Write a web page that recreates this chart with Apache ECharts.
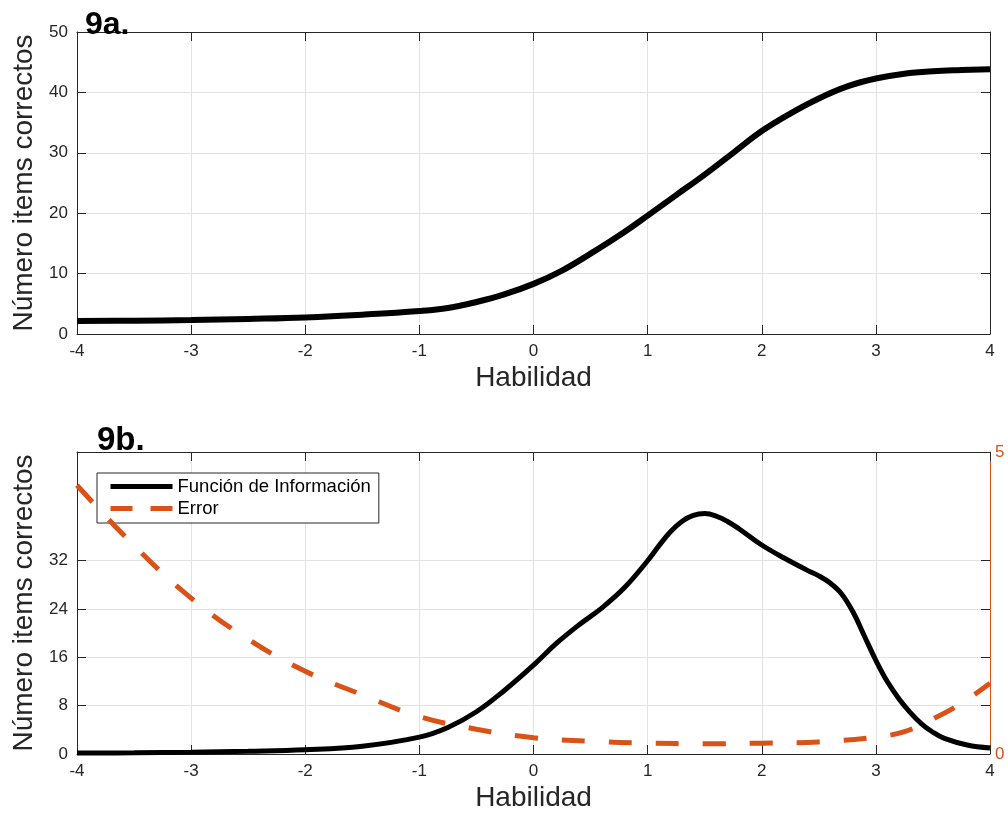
<!DOCTYPE html>
<html>
<head>
<meta charset="utf-8">
<script src="https://cdn.jsdelivr.net/npm/echarts@6/dist/echarts.min.js"></script>
<style>html,body{margin:0;padding:0;background:#fff}#c{width:1008px;height:813px}</style>
</head>
<body>
<div id="c"></div>
<script>
// ---- data ----
const xTicks = [-4, -3, -2, -1, 0, 1, 2, 3, 4];
const topX = [-4, -3.5, -3, -2.5, -2, -1.5, -1, -0.75, -0.5, -0.25, 0, 0.25, 0.5, 0.75, 1, 1.25, 1.5, 1.75, 2, 2.25, 2.5, 2.75, 3, 3.25, 3.5, 3.75, 4];
const topY = [2.15, 2.2, 2.3, 2.5, 2.75, 3.2, 3.8, 4.3, 5.3, 6.6, 8.3, 10.5, 13.3, 16.3, 19.6, 23, 26.4, 30, 33.6, 36.5, 39, 41, 42.3, 43.1, 43.5, 43.7, 43.85];
const infoX = [-4, -3.5, -3, -2.5, -2, -1.5, -1, -0.75, -0.5, -0.25, 0, 0.2, 0.4, 0.6, 0.8, 1.0, 1.1, 1.2, 1.3, 1.4, 1.5, 1.6, 1.7, 1.8, 2.0, 2.2, 2.4, 2.5, 2.6, 2.7, 2.8, 2.9, 3.0, 3.1, 3.2, 3.3, 3.4, 3.5, 3.6, 3.8, 4.0];
const infoY = [0.15, 0.2, 0.3, 0.45, 0.7, 1.3, 2.8, 4.4, 7.0, 10.6, 14.7, 18.3, 21.4, 24.2, 27.6, 32, 34.5, 36.8, 38.5, 39.5, 39.8, 39.4, 38.5, 37.3, 34.6, 32.4, 30.4, 29.5, 28.3, 26.5, 23.5, 19.5, 15.5, 12.0, 9.2, 6.9, 5.0, 3.6, 2.6, 1.5, 1.0];
const errX = [-4, -3.5, -3, -2.5, -2, -1.5, -1, -0.5, 0, 0.5, 1, 1.5, 2, 2.5, 3, 3.25, 3.5, 3.75, 4];
const errY = [4.45, 3.45, 2.58, 1.9, 1.37, 0.98, 0.62, 0.41, 0.27, 0.21, 0.18, 0.17, 0.18, 0.2, 0.28, 0.37, 0.58, 0.84, 1.17];
const leftTicksB = [0, 8, 16, 24, 32];
const rightTicksB = [0, 5];
const seriesNames = ['Función de Información', 'Error'];
const titles = ['9a.', '9b.'];
const axisNameY = 'Número items correctos';
const axisNameX = 'Habilidad';

// ---- styles ----
const FONT = 'Liberation Sans, Arial, Helvetica, sans-serif';
const AX = '#262626';
const GRIDC = '#e2e2e2';
const ORANGE = '#D95319';

function pairs(xs, ys) { return xs.map((x, i) => [x, ys[i]]); }

function xBottom(gi) {
  return {
    type: 'value', gridIndex: gi, position: 'bottom', min: -4, max: 4, interval: 1,
    name: axisNameX, nameLocation: 'middle', nameGap: 30,
    nameTextStyle: { fontFamily: FONT, fontSize: 28, color: AX },
    axisLine: { show: true, onZero: false, lineStyle: { color: AX, width: 1 } },
    axisTick: { show: true, inside: true, length: 9, lineStyle: { color: AX } },
    axisLabel: { show: true, margin: 9, fontFamily: FONT, fontSize: 17, color: AX },
    splitLine: { show: true, lineStyle: { color: GRIDC, width: 1 } }
  };
}
function xTop(gi) {
  return {
    type: 'value', gridIndex: gi, position: 'top', min: -4, max: 4, interval: 1,
    axisLine: { show: true, onZero: false, lineStyle: { color: AX, width: 1 } },
    axisTick: { show: true, inside: true, length: 9, lineStyle: { color: AX } },
    axisLabel: { show: false }, splitLine: { show: false }
  };
}

const option = {
  animation: false,
  backgroundColor: '#fff',
  title: [
    { text: titles[0], left: 80, top: 4, textStyle: { fontFamily: FONT, fontSize: 32, fontWeight: 'bold', color: '#000' } },
    { text: titles[1], left: 92, top: 419, textStyle: { fontFamily: FONT, fontSize: 33, fontWeight: 'bold', color: '#000' } }
  ],
  grid: [
    { left: 77, right: 18, top: 32, height: 302, containLabel: false },
    { left: 77, right: 18, top: 452, height: 302, containLabel: false }
  ],
  legend: {
    data: [
      { name: seriesNames[0] },
      { name: seriesNames[1], lineStyle: { type: [22, 18] } }
    ],
    orient: 'vertical', left: 97, top: 473,
    backgroundColor: '#fff', borderColor: AX, borderWidth: 1, borderRadius: 0,
    padding: [4, 8, 5, 11], itemWidth: 62, itemHeight: 14, itemGap: 3,
    itemStyle: { opacity: 0 },
    lineStyle: { width: 5, cap: 'butt' },
    textStyle: { fontFamily: FONT, fontSize: 18.5, color: '#000' }
  },
  xAxis: [xBottom(0), xTop(0), xBottom(1), xTop(1)],
  yAxis: [
    {
      type: 'value', gridIndex: 0, position: 'left', min: 0, max: 50, interval: 10,
      name: axisNameY, nameLocation: 'middle', nameGap: 38,
      nameTextStyle: { fontFamily: FONT, fontSize: 28, color: AX },
      axisLine: { show: true, onZero: false, lineStyle: { color: AX } },
      axisTick: { show: true, inside: true, length: 9, lineStyle: { color: AX } },
      axisLabel: { margin: 9, fontFamily: FONT, fontSize: 17, color: AX },
      splitLine: { show: true, lineStyle: { color: GRIDC } }
    },
    {
      type: 'value', gridIndex: 0, position: 'right', min: 0, max: 50, interval: 10,
      axisLine: { show: true, onZero: false, lineStyle: { color: AX } },
      axisTick: { show: true, inside: true, length: 9, lineStyle: { color: AX } },
      axisLabel: { show: false }, splitLine: { show: false }
    },
    {
      type: 'value', gridIndex: 1, position: 'left', min: 0, max: 50,
      name: axisNameY, nameLocation: 'middle', nameGap: 38,
      nameTextStyle: { fontFamily: FONT, fontSize: 28, color: AX },
      axisLine: { show: true, onZero: false, lineStyle: { color: AX } },
      axisTick: { show: true, inside: true, length: 9, lineStyle: { color: AX }, customValues: leftTicksB },
      axisLabel: { margin: 9, fontFamily: FONT, fontSize: 17, color: AX, customValues: leftTicksB },
      splitLine: { show: true, lineStyle: { color: GRIDC } }
    },
    {
      type: 'value', gridIndex: 1, position: 'right', min: 0, max: 5, interval: 5,
      axisLine: { show: true, onZero: false, lineStyle: { color: ORANGE } },
      axisTick: { show: false },
      axisLabel: { margin: 5, fontFamily: FONT, fontSize: 17, color: ORANGE, customValues: rightTicksB },
      splitLine: { show: false }
    },
    {
      type: 'value', gridIndex: 1, position: 'right', min: 0, max: 50,
      axisLine: { show: false, onZero: false },
      axisTick: { show: true, inside: true, length: 9, lineStyle: { color: AX }, customValues: leftTicksB },
      axisLabel: { show: false }, splitLine: { show: false }
    }
  ],
  series: [
    {
      name: '9a', type: 'line', xAxisIndex: 0, yAxisIndex: 0, data: pairs(topX, topY),
      showSymbol: false, symbol: 'none', smooth: 0.4,
      lineStyle: { color: '#000', width: 6 }, itemStyle: { color: '#000' }, z: 3
    },
    {
      name: seriesNames[0], type: 'line', xAxisIndex: 2, yAxisIndex: 2, data: pairs(infoX, infoY),
      showSymbol: false, symbol: 'none', smooth: 0.4,
      lineStyle: { color: '#000', width: 5 }, itemStyle: { color: '#000' }, z: 3
    },
    {
      name: seriesNames[1], type: 'line', xAxisIndex: 2, yAxisIndex: 3, data: pairs(errX, errY),
      showSymbol: false, symbol: 'none', smooth: 0.4,
      lineStyle: { color: ORANGE, width: 5, type: [23, 24], cap: 'butt' }, itemStyle: { color: ORANGE }, z: 4
    }
  ]
};
const chart = echarts.init(document.getElementById('c'), null, { renderer: 'canvas' });
chart.setOption(option);
</script>
</body>
</html>
